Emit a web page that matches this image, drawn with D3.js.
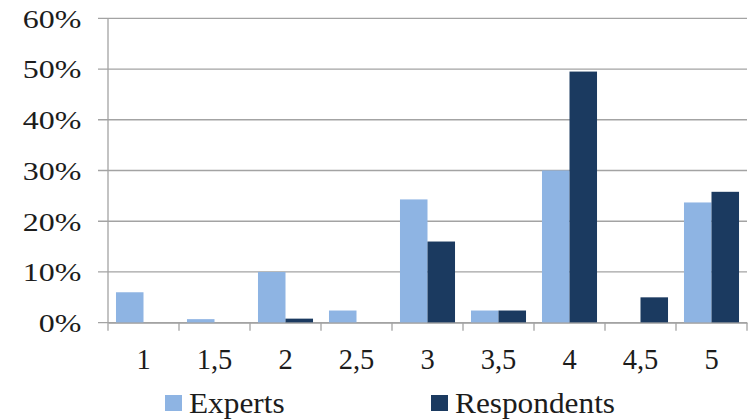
<!DOCTYPE html>
<html>
<head>
<meta charset="utf-8">
<script src="https://cdnjs.cloudflare.com/ajax/libs/d3/7.8.5/d3.min.js"></script>
<style>
  html, body { margin: 0; padding: 0; background: #fff; }
  svg { display: block; }
</style>
</head>
<body>
<svg id="chart" width="748" height="419"></svg>
<script>
// Rating categories and the share of each group per rating
const categories = ["1", "1,5", "2", "2,5", "3", "3,5", "4", "4,5", "5"];
const seriesNames = ["Experts", "Respondents"];
const experts = [0.06, 0.007, 0.10, 0.024, 0.243, 0.024, 0.30, 0, 0.237];
const respondents = [0, 0, 0.008, 0, 0.16, 0.024, 0.495, 0.05, 0.258];
const yTicks = [0, 0.1, 0.2, 0.3, 0.4, 0.5, 0.6];
const colors = ["#8eb4e3", "#1b3a60"];

const svg = d3.select("#chart");
const plot = { left: 108, right: 747, top: 18.3, bottom: 322.7 };
const serif = "Liberation Serif";
const ink = "#1c1c1c";
const gridColor = "#a3a3a3";

const x0 = d3.scaleBand().domain(categories).range([plot.left, plot.right]).padding(0);
const x1 = d3.scaleBand().domain(seriesNames).range([0, x0.bandwidth()]).paddingInner(0).paddingOuter(0.29);
const y = d3.scaleLinear().domain([0, 0.6]).range([plot.bottom, plot.top]);

const rows = categories.map((c, i) => ({ cat: c, values: [experts[i], respondents[i]] }));

// Horizontal gridlines with left tick stubs
svg.append("g").selectAll("line").data(yTicks).join("line")
  .attr("x1", plot.left - 10).attr("x2", plot.right)
  .attr("y1", d => y(d)).attr("y2", d => y(d))
  .attr("stroke", gridColor).attr("stroke-width", 1.3);

// Y tick labels (percent)
const fmt = d3.format(".0%");
svg.append("g").selectAll("text").data(yTicks).join("text")
  .attr("transform", d => `translate(81.5, ${y(d) + 9.3}) scale(1.28,1)`)
  .attr("text-anchor", "end")
  .style("font-family", serif)
  .style("fill", ink)
  .style("font-size", "25px")
  .text(d => fmt(d));

// Bars
const groups = svg.append("g").selectAll("g").data(rows).join("g")
  .attr("transform", d => `translate(${x0(d.cat)},0)`);
groups.selectAll("rect")
  .data(d => d.values.map((v, i) => ({ key: seriesNames[i], v, i })))
  .join("rect")
  .attr("x", d => x1(d.key))
  .attr("width", x1.bandwidth())
  .attr("y", d => y(d.v))
  .attr("height", d => y(0) - y(d.v))
  .attr("fill", d => colors[d.i]);

// Y axis line
svg.append("line")
  .attr("x1", plot.left).attr("x2", plot.left)
  .attr("y1", plot.top).attr("y2", plot.bottom)
  .attr("stroke", gridColor).attr("stroke-width", 1.3);

// X axis baseline with category separators
const xAxis = d3.axisBottom(x0).tickSize(0).tickFormat("");
const xg = svg.append("g").attr("transform", `translate(0,${plot.bottom})`).call(xAxis);
xg.select(".domain").attr("stroke", gridColor).attr("stroke-width", 1.3);
const bounds = categories.map(c => x0(c)).concat([plot.right]);
xg.selectAll(".sep").data(bounds).join("line").attr("class", "sep")
  .attr("x1", d => d).attr("x2", d => d)
  .attr("y1", 0).attr("y2", 8)
  .attr("stroke", gridColor).attr("stroke-width", 1.3);

// Category labels
svg.append("g").selectAll("text").data(categories).join("text")
  .attr("x", d => x0(d) + x0.bandwidth() / 2)
  .attr("y", 369)
  .attr("text-anchor", "middle")
  .style("font-family", serif)
  .style("fill", ink)
  .style("font-size", "28.5px")
  .text(d => d);

// Legend
const legendX = [165, 431];
const lg = svg.append("g").selectAll("g").data(seriesNames).join("g")
  .attr("transform", (d, i) => `translate(${legendX[i]},395)`);
lg.append("rect").attr("width", 17).attr("height", 16)
  .attr("fill", (d, i) => colors[i]);
lg.append("text")
  .attr("transform", "translate(24,17.5) scale(1.08,1)")
  .style("font-family", serif)
  .style("fill", ink)
  .style("font-size", "29px")
  .text(d => d);
</script>
</body>
</html>
